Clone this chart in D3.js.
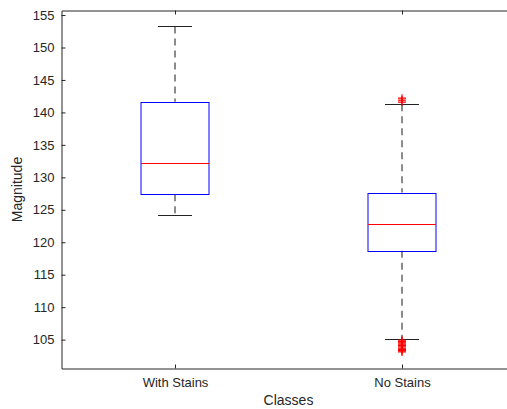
<!DOCTYPE html>
<html>
<head>
<meta charset="utf-8">
<script src="https://cdn.jsdelivr.net/npm/d3@7"></script>
<style>
  body { margin: 0; background: #fff; }
  svg { display: block; }
</style>
</head>
<body>
<div id="container"></div>
<script>
// svg size
const width = 507;
const height = 409;

// axes position (right edge falls outside the window, like the reference)
const marginLeft = 61.5;
const marginTop = 10.5;
const plotRight = 515.5;
const plotBottom = 368.5;

const fontFamily = "Arial, 'Liberation Sans', Helvetica, sans-serif";
const fontSize = "13px";
const textColor = "#262626";

// data
const classes = ["With Stains", "No Stains"];
const upperWhisker = [153.25, 141.25];
const q3 = [141.65, 127.65];
const median = [132.15, 122.75];
const q1 = [127.4, 118.7];
const lowerWhisker = [124.25, 105.15];
const outliersNoStains = [141.6, 141.9, 142.2, 104.9, 104.7, 104.5, 104.3, 104.1, 103.9, 103.7, 103.5, 103.3, 103.1];
const yTicks = [105, 110, 115, 120, 125, 130, 135, 140, 145, 150, 155];

const x = d3.scalePoint()
    .domain(classes)
    .range([marginLeft, plotRight])
    .padding(0.5);

const y = d3.scaleLinear()
    .domain([100.55, 155.7])
    .range([plotBottom, marginTop]);

const boxHalf = 34;
const capHalf = 17;

const svg = d3.select("#container").append("svg")
    .attr("width", width)
    .attr("height", height);

// y axis
svg.append("g")
    .attr("transform", `translate(${marginLeft},0)`)
    .call(d3.axisLeft(y).tickValues(yTicks).tickSizeInner(-4).tickSizeOuter(0).tickPadding(7))
    .call(g => g.select(".domain").attr("stroke", textColor))
    .call(g => g.selectAll(".tick line").attr("stroke", textColor))
    .call(g => g.selectAll("text").attr("fill", textColor).attr("font-family", fontFamily).attr("font-size", fontSize));

// x axis
svg.append("g")
    .attr("transform", `translate(0,${plotBottom})`)
    .call(d3.axisBottom(x).tickSizeInner(-4).tickSizeOuter(0).tickPadding(9))
    .call(g => g.select(".domain").attr("stroke", textColor))
    .call(g => g.selectAll(".tick line").attr("stroke", textColor))
    .call(g => g.selectAll("text").attr("fill", textColor).attr("font-family", fontFamily).attr("font-size", fontSize));

// top border with mirrored ticks
svg.append("g")
    .attr("transform", `translate(0,${marginTop})`)
    .call(d3.axisTop(x).tickSizeInner(-4).tickSizeOuter(0).tickFormat(""))
    .call(g => g.select(".domain").attr("stroke", textColor))
    .call(g => g.selectAll(".tick line").attr("stroke", textColor));

// axis titles
svg.append("text")
    .attr("x", (marginLeft + plotRight) / 2)
    .attr("y", 405)
    .attr("text-anchor", "middle")
    .attr("font-family", fontFamily)
    .attr("font-size", "14px")
    .attr("fill", textColor)
    .text("Classes");

svg.append("text")
    .attr("transform", `translate(22,${(marginTop + plotBottom) / 2}) rotate(-90)`)
    .attr("text-anchor", "middle")
    .attr("font-family", fontFamily)
    .attr("font-size", "14px")
    .attr("fill", textColor)
    .text("Magnitude");

// boxes
const idx = d3.range(classes.length);
const boxes = svg.append("g");

// whiskers (dashed)
boxes.selectAll("line.wup")
    .data(idx)
    .join("line")
    .attr("class", "wup")
    .attr("x1", i => x(classes[i])).attr("x2", i => x(classes[i]))
    .attr("y1", i => y(upperWhisker[i])).attr("y2", i => y(q3[i]))
    .attr("stroke", "#666")
    .attr("stroke-width", 1.5)
    .attr("stroke-dasharray", "7,5");

boxes.selectAll("line.wlo")
    .data(idx)
    .join("line")
    .attr("class", "wlo")
    .attr("x1", i => x(classes[i])).attr("x2", i => x(classes[i]))
    .attr("y1", i => y(q1[i])).attr("y2", i => y(lowerWhisker[i]))
    .attr("stroke", "#666")
    .attr("stroke-width", 1.5)
    .attr("stroke-dasharray", "7,5");

// caps
boxes.selectAll("line.cap")
    .data(idx.flatMap(i => [[i, upperWhisker[i]], [i, lowerWhisker[i]]]))
    .join("line")
    .attr("class", "cap")
    .attr("x1", d => x(classes[d[0]]) - capHalf).attr("x2", d => x(classes[d[0]]) + capHalf)
    .attr("y1", d => Math.round(y(d[1])) + 0.5).attr("y2", d => Math.round(y(d[1])) + 0.5)
    .attr("stroke", "#222");

// box rectangles
boxes.selectAll("rect")
    .data(idx)
    .join("rect")
    .attr("x", i => x(classes[i]) - boxHalf)
    .attr("y", i => Math.round(y(q3[i])) + 0.5)
    .attr("width", boxHalf * 2)
    .attr("height", i => Math.round(y(q1[i])) - Math.round(y(q3[i])))
    .attr("fill", "none")
    .attr("stroke", "#0000ff");

// medians
boxes.selectAll("line.med")
    .data(idx)
    .join("line")
    .attr("class", "med")
    .attr("x1", i => x(classes[i]) - boxHalf).attr("x2", i => x(classes[i]) + boxHalf)
    .attr("y1", i => Math.round(y(median[i])) + 0.5).attr("y2", i => Math.round(y(median[i])) + 0.5)
    .attr("stroke", "#ff0000");

// outliers
boxes.selectAll("path.out")
    .data(outliersNoStains)
    .join("path")
    .attr("class", "out")
    .attr("transform", d => `translate(${x("No Stains")},${y(d)})`)
    .attr("d", "M-4,0H4M0,-4V4")
    .attr("stroke", "#ff0000")
    .attr("stroke-width", 1.2);
</script>
</body>
</html>
